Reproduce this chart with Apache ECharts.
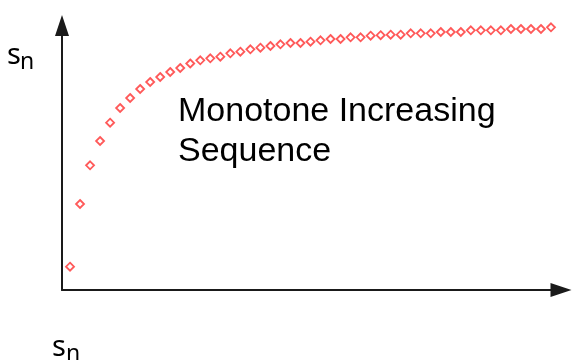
<!DOCTYPE html>
<html>
<head>
<meta charset="utf-8">
<script src="https://cdn.jsdelivr.net/npm/echarts@6/dist/echarts.min.js"></script>
<style>html,body{margin:0;padding:0;background:#fff}#c{width:572px;height:360px}</style>
</head>
<body>
<div id="c"></div>
<script>
// index n of the sequence
const nValues = [1,2,3,4,5,6,7,8,9,10,11,12,13,14,15,16,17,18,19,20,21,22,23,24,25,26,27,28,29,30,31,32,33,34,35,36,37,38,39,40,41,42,43,44,45,46,47,48,49];
// sequence values s_n (arbitrary units)
const sValues = [23.3,86,124.7,149,167.3,182,192,201,208,213,218,222,226.5,229.7,231.7,233.3,236.7,238.3,240.7,242.3,244,245.7,247,247,248.3,249.7,251,251,252.7,252.7,254.3,254.8,255.3,255.3,256.7,256.7,256.7,258,258,258,259.7,259.7,259.7,259.7,261,261,261,261,262.7];
const titleLines = ['Monotone Increasing', 'Sequence'];
const axisLabel = 's';
const axisSub = 'n';

const chart = echarts.init(document.getElementById('c'), null, {renderer: 'canvas'});
const axisLineStyle = {color: '#1a1a1a', width: 2};
chart.setOption({
  animation: false,
  backgroundColor: '#ffffff',
  grid: {left: 62, right: 11, top: 25.5, bottom: 70},
  xAxis: {
    type: 'value', min: 0.2, max: 50,
    axisLine: {show: true, onZero: false, lineStyle: axisLineStyle, symbol: ['none', 'triangle'], symbolSize: [14, 21]},
    axisTick: {show: false}, axisLabel: {show: false}, splitLine: {show: false}
  },
  yAxis: {
    type: 'value', min: 0, max: 264.5,
    axisLine: {show: true, onZero: false, lineStyle: axisLineStyle, symbol: ['none', 'triangle'], symbolSize: [14, 21]},
    axisTick: {show: false}, axisLabel: {show: false}, splitLine: {show: false}
  },
  series: [{
    type: 'scatter',
    data: nValues.map((n, i) => [n, sValues[i]]),
    symbol: 'diamond',
    symbolSize: 8,
    itemStyle: {color: '#ffffff', borderColor: '#ff3030', borderWidth: 1.8}
  }],
  graphic: [
    {type: 'text', left: 178, top: 92, style: {text: titleLines.join('\n'), font: '34px "Liberation Sans", Arial, sans-serif', fill: '#000', lineHeight: 40}},
    {type: 'text', left: 7, top: 41, style: {text: axisLabel, font: '29px "Noto Sans", sans-serif', fill: '#000'}},
    {type: 'text', left: 20, top: 51, style: {text: axisSub, font: '23px "Noto Sans", sans-serif', fill: '#000'}},
    {type: 'text', left: 52, top: 333, style: {text: axisLabel, font: '29px "Noto Sans", sans-serif', fill: '#000'}},
    {type: 'text', left: 66, top: 343, style: {text: axisSub, font: '23px "Noto Sans", sans-serif', fill: '#000'}}
  ]
});
</script>
</body>
</html>
